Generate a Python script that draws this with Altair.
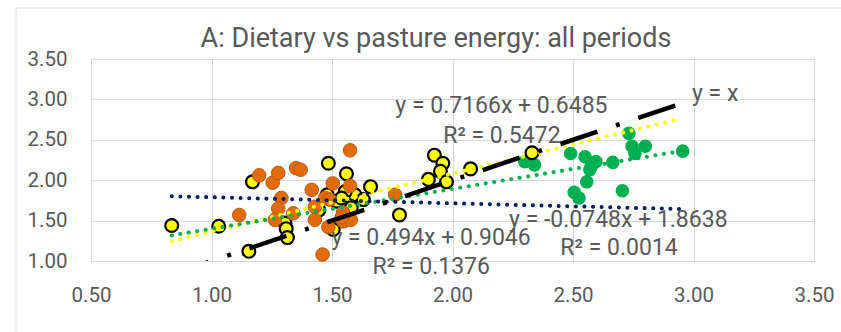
import altair as alt
import pandas as pd

# ---- data ----
yellow_x = [0.835, 1.03, 1.155, 1.17, 1.305, 1.31, 1.315, 1.485, 1.56, 1.48,
            1.52, 1.505, 1.595, 1.63, 1.66, 1.555, 1.58, 1.445, 1.54, 1.78,
            1.90, 1.925, 1.96, 1.95, 1.975, 2.075, 2.33]
yellow_y = [1.44, 1.43, 1.12, 1.98, 1.47, 1.40, 1.29, 2.21, 2.08, 1.82,
            1.74, 1.39, 1.82, 1.76, 1.92, 1.86, 1.66, 1.63, 1.78, 1.57,
            2.01, 2.31, 2.21, 2.11, 1.98, 2.14, 2.34]

orange_x = [1.115, 1.198, 1.254, 1.277, 1.351, 1.370, 1.575, 1.503, 1.575, 1.416,
            1.29, 1.277, 1.263, 1.339, 1.461, 1.429, 1.485, 1.547, 1.429, 1.471,
            1.49, 1.578, 1.762, 1.546, 1.54]
orange_y = [1.57, 2.06, 1.97, 2.09, 2.15, 2.13, 2.37, 1.96, 1.93, 1.88,
            1.78, 1.65, 1.51, 1.59, 1.08, 1.51, 1.42, 1.49, 1.67, 1.78,
            1.76, 1.51, 1.82, 1.60, 1.54]

green_x = [2.30, 2.34, 2.49, 2.55, 2.575, 2.595, 2.57, 2.665, 2.557, 2.505,
           2.525, 2.705, 2.732, 2.745, 2.757, 2.80, 2.955]
green_y = [2.23, 2.19, 2.33, 2.29, 2.17, 2.23, 2.13, 2.22, 1.98, 1.85,
           1.78, 1.87, 2.58, 2.42, 2.33, 2.42, 2.36]

trend_names = ["yellow", "green", "navy"]
trend_slope = [0.7166, 0.494, -0.0748]
trend_intercept = [0.6485, 0.9046, 1.8638]
trend_x_range = [0.835, 2.95]

label_text = ["y = 0.7166x + 0.6485", "R² = 0.5472",
              "y = 0.494x + 0.9046", "R² = 0.1376",
              "y = -0.0748x + 1.8638", "R² = 0.0014", "y = x"]
label_x = [2.203, 2.205, 1.911, 1.912, 2.688, 2.691, 3.090]
label_y = [2.833, 2.460, 1.199, 0.835, 1.426, 1.074, 2.976]

title_text = ["A: Dietary vs pasture energy: all periods"]

x_ticks = [0.5, 1.0, 1.5, 2.0, 2.5, 3.0, 3.5]
y_ticks = [1.0, 1.5, 2.0, 2.5, 3.0, 3.5]

# ---- tables ----
pts = pd.concat([
    pd.DataFrame({"x": green_x, "y": green_y, "s": "green"}),
    pd.DataFrame({"x": yellow_x, "y": yellow_y, "s": "yellow"}),
    pd.DataFrame({"x": orange_x, "y": orange_y, "s": "orange"}),
])
rows = []
for n, m, b in zip(trend_names, trend_slope, trend_intercept):
    for xv in trend_x_range:
        rows.append({"x": xv, "y": m * xv + b, "s": n})
trend = pd.DataFrame(rows)
ident = pd.DataFrame({"x": trend_x_range, "y": trend_x_range})
labels = pd.DataFrame({"x": label_x, "y": label_y, "t": label_text})

FONT = "Roboto"
GREY = "#595959"
GRID = "#D9D9D9"

xs = alt.Scale(domain=[0.5, 3.5], nice=False, zero=False)
ys = alt.Scale(domain=[1.0, 3.5], nice=False, zero=False)

xax = alt.Axis(values=x_ticks, format=".2f", title=None, grid=True, gridColor=GRID,
               domainColor=GRID, ticks=False, labelFont=FONT, labelFontSize=20.5,
               labelColor=GREY, labelPadding=40, labelBaseline="alphabetic",
               labelFlush=False, labelOverlap=False)
yax = alt.Axis(values=y_ticks, format=".2f", title=None, grid=True, gridColor=GRID,
               domain=False, ticks=False, labelFont=FONT, labelFontSize=20.5,
               labelColor=GREY, labelPadding=24, labelFlush=False, labelOverlap=False)

frame = alt.Chart(pd.DataFrame({"a": [0]})).mark_rect(
    fill=None, stroke=GRID, strokeWidth=1
).encode(x=alt.value(-75), x2=alt.value(800), y=alt.value(-51), y2=alt.value(320))

title = alt.Chart(pd.DataFrame({"t": title_text})).mark_text(
    font=FONT, fontSize=27, color=GREY, align="center", baseline="alphabetic"
).encode(x=alt.value(345), y=alt.value(-12), text="t:N")

green = alt.Chart(pts[pts.s == "green"]).mark_circle(
    size=185, color="#00B050", opacity=1
).encode(x=alt.X("x:Q", scale=xs, axis=xax), y=alt.Y("y:Q", scale=ys, axis=yax))

yellow = alt.Chart(pts[pts.s == "yellow"]).mark_point(
    shape="circle", size=165, filled=True, fill="#FFFF00", stroke="#000000",
    strokeWidth=2.2, opacity=1
).encode(x="x:Q", y="y:Q")

orange = alt.Chart(pts[pts.s == "orange"]).mark_point(
    shape="circle", size=185, filled=True, fill="#E36C0A", stroke="#B85A0D",
    strokeWidth=1, opacity=1
).encode(x="x:Q", y="y:Q")

trend_colors = alt.Scale(domain=trend_names, range=["#FFFF00", "#00B050", "#002060"])
trends = alt.Chart(trend).mark_line(
    strokeWidth=4, strokeCap="round", strokeDash=[0.1, 8.5]
).encode(x="x:Q", y="y:Q", detail="s:N",
         color=alt.Color("s:N", scale=trend_colors, legend=None))

identity = alt.Chart(ident).mark_line(
    color="#000000", strokeWidth=4.5, strokeDash=[39, 19.5, 4, 19.5], clip=True
).encode(x="x:Q", y="y:Q")

texts = alt.Chart(labels).mark_text(
    font=FONT, fontSize=23, color=GREY, align="center", baseline="alphabetic"
).encode(x="x:Q", y="y:Q", text="t:N")

chart = alt.layer(frame, title, green, yellow, orange, trends, identity, texts).properties(
    width=723, height=202,
    autosize=alt.AutoSizeParams(type="none"),
    padding={"left": 91, "top": 59, "right": 27, "bottom": 71},
).configure_view(stroke=None).configure(background="#FFFFFF")

chart.save("out.html", embed_options={"renderer": "svg", "actions": False})
